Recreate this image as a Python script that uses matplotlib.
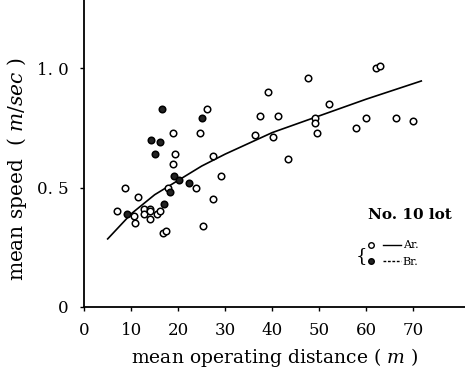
import matplotlib
matplotlib.use("Agg")
import matplotlib.pyplot as plt
from matplotlib.lines import Line2D
from matplotlib.legend_handler import HandlerTuple

plt.rcParams["font.family"] = "DejaVu Serif"
plt.rcParams["mathtext.fontset"] = "dejavuserif"

# Ar. (open circles)
ar_dist = [26.1, 39.0, 37.3, 41.2, 18.8, 24.6, 36.4, 40.1, 19.4, 18.9, 27.4,
           47.6, 62.0, 63.0, 52.1, 49.0, 49.1, 49.5, 60.0, 57.8, 66.3, 69.9,
           43.4, 29.1, 23.7, 17.9, 8.6, 11.5, 6.9, 10.5, 10.8, 12.8, 13.9,
           12.8, 14.0, 14.0, 15.5, 16.2, 16.8, 17.3, 27.4, 25.2]
ar_speed = [0.83, 0.90, 0.80, 0.80, 0.73, 0.73, 0.72, 0.71, 0.64, 0.60, 0.63,
            0.96, 1.00, 1.01, 0.85, 0.79, 0.77, 0.73, 0.79, 0.75, 0.79, 0.78,
            0.62, 0.55, 0.50, 0.50, 0.50, 0.46, 0.40, 0.38, 0.35, 0.41, 0.41,
            0.39, 0.40, 0.37, 0.39, 0.40, 0.31, 0.32, 0.45, 0.34]

# Br. (filled circles)
br_dist = [16.5, 25.0, 14.3, 16.1, 15.1, 19.1, 20.1, 22.3, 18.2, 16.9, 9.1]
br_speed = [0.83, 0.79, 0.70, 0.69, 0.64, 0.55, 0.53, 0.52, 0.48, 0.43, 0.39]

# fitted curve
fit_dist = [5, 10, 15, 20, 25, 30, 40, 50, 60, 71.7]
fit_speed = [0.285, 0.39, 0.47, 0.53, 0.59, 0.64, 0.73, 0.80, 0.87, 0.946]

x_ticks = [0, 10, 20, 30, 40, 50, 60, 70]
y_ticks = [0, 0.5, 1.0]
y_tick_labels = ["0", "0. 5", "1. 0"]

fig = plt.figure(figsize=(4.65, 3.79), dpi=100)
ax = fig.add_axes([0.181, 0.19, 0.819, 0.81])

ax.plot(fit_dist, fit_speed, color="black", lw=1.2)
ax.scatter(ar_dist, ar_speed, s=22, facecolors="white", edgecolors="black",
           linewidths=1.1, zorder=3)
ax.scatter(br_dist, br_speed, s=22, facecolors="#222222", edgecolors="black",
           linewidths=1.1, zorder=3)

ax.set_xlim(0, 81)
ax.set_ylim(0, 1.285)
ax.set_xticks(x_ticks)
ax.set_yticks(y_ticks)
ax.set_yticklabels(y_tick_labels)
ax.tick_params(axis="both", direction="out", length=3, width=1,
               labelsize=12, pad=8)
for side in ["top", "right"]:
    ax.spines[side].set_visible(False)
for side in ["left", "bottom"]:
    ax.spines[side].set_linewidth(1.3)

ax.set_xlabel(r"mean operating distance ( $\mathit{m}$ )", fontsize=13.5, labelpad=5)
ax.set_ylabel(r"mean speed  ( $\mathit{m}$/$\mathit{sec}$ )", fontsize=14.5)
ax.yaxis.set_label_coords(-0.145, 0.45)

# legend
ar_marker = Line2D([], [], ls="none", marker="o", ms=4, mfc="white", mec="black", mew=1)
br_marker = Line2D([], [], ls="none", marker="o", ms=4, mfc="#222222", mec="black", mew=1)
ar_line = Line2D([], [], color="black", lw=1)
br_line = Line2D([], [], color="black", lw=1, ls=(0, (2, 1.2)))
leg = ax.legend([(ar_marker, ar_line), (br_marker, br_line)], ["Ar.", "Br."],
                handler_map={tuple: HandlerTuple(ndivide=None, pad=0.3)},
                loc="upper left", bbox_to_anchor=(0.717, 0.235),
                frameon=False, fontsize=8, handlelength=3.4, handletextpad=0.2,
                labelspacing=0.6, borderpad=0)
ax.text(0.855, 0.30, "No. 10 lot", transform=ax.transAxes, ha="center",
        va="center", fontsize=11, fontweight="bold")
ax.text(0.728, 0.165, "{", transform=ax.transAxes, ha="center", va="center",
        fontsize=13)

fig.savefig("out.png", dpi=100)
